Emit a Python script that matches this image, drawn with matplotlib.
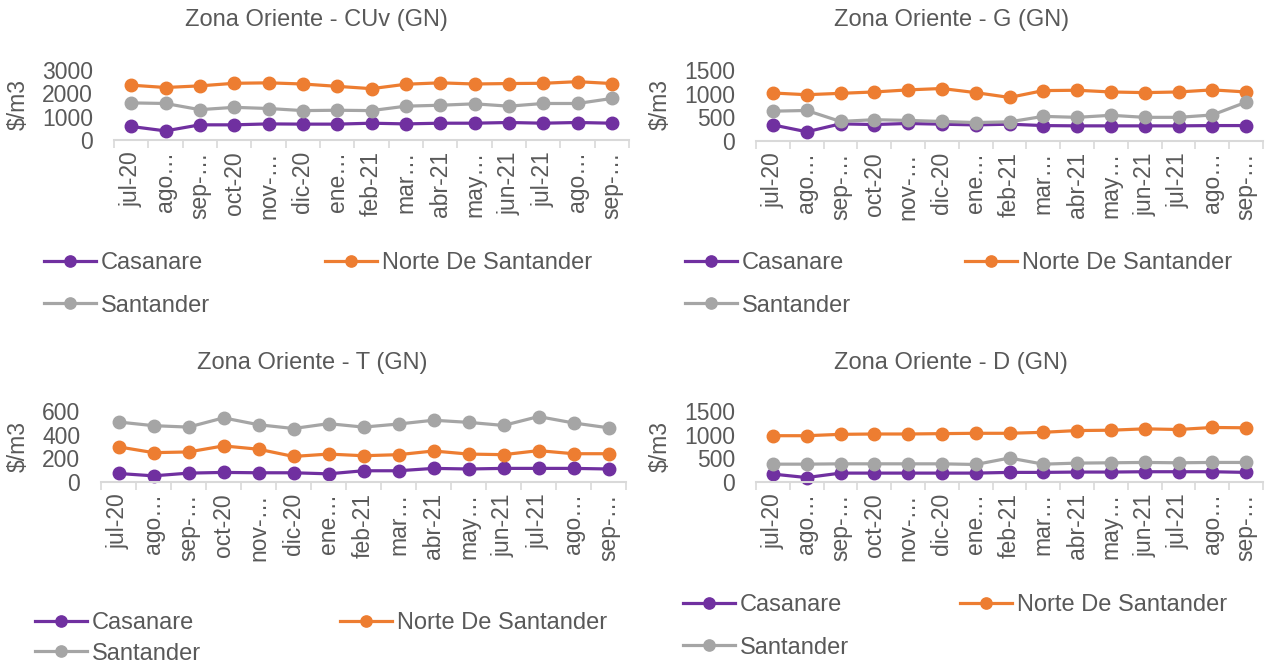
import matplotlib
matplotlib.use("Agg")
import matplotlib.pyplot as plt
from matplotlib.ticker import MultipleLocator, FixedLocator

plt.rcParams['font.family'] = ['Liberation Sans', 'DejaVu Sans']

months = ["jul-20", "ago\u2026", "sep-\u2026", "oct-20", "nov-\u2026", "dic-20", "ene\u2026",
          "feb-21", "mar\u2026", "abr-21", "may\u2026", "jun-21", "jul-21", "ago\u2026", "sep-\u2026"]

series_names = ["Casanare", "Norte De Santander", "Santander"]

# CUv
cuv_casanare = [580, 390, 650, 650, 690, 680, 680, 720, 690, 720, 720, 750, 720, 750, 720]
cuv_norte = [2350, 2250, 2320, 2430, 2450, 2400, 2300, 2200, 2390, 2450, 2400, 2420, 2430, 2500, 2420]
cuv_santander = [1590, 1565, 1300, 1400, 1350, 1260, 1275, 1260, 1450, 1490, 1550, 1450, 1565, 1565, 1780]

# G
g_casanare = [340, 195, 362, 348, 370, 355, 340, 355, 326, 320, 320, 320, 320, 326, 326]
g_norte = [1014, 978, 1007, 1036, 1080, 1109, 1022, 920, 1065, 1072, 1036, 1022, 1036, 1080, 1036]
g_santander = [630, 645, 413, 450, 435, 413, 390, 405, 520, 500, 543, 500, 500, 550, 820]

# T
t_casanare = [72, 52, 75, 81, 78, 78, 69, 95, 95, 115, 110, 115, 115, 115, 110]
t_norte = [297, 248, 254, 305, 277, 216, 236, 222, 231, 262, 236, 231, 265, 239, 239]
t_santander = [507, 476, 464, 542, 484, 452, 493, 464, 490, 522, 504, 478, 553, 499, 458]

# D
d_casanare = [167, 94, 188, 188, 188, 188, 188, 203, 203, 210, 210, 217, 217, 217, 203]
d_norte = [978, 978, 1007, 1014, 1014, 1022, 1029, 1029, 1050, 1087, 1094, 1123, 1109, 1152, 1145]
d_santander = [377, 377, 384, 384, 384, 384, 370, 507, 377, 399, 406, 413, 406, 413, 413]

titles = ["Zona Oriente - CUv (GN)", "Zona Oriente - G (GN)",
          "Zona Oriente - T (GN)", "Zona Oriente - D (GN)"]
panels = [
    (cuv_casanare, cuv_norte, cuv_santander),
    (g_casanare, g_norte, g_santander),
    (t_casanare, t_norte, t_santander),
    (d_casanare, d_norte, d_santander),
]
ymaxes = [3000, 1500, 600, 1500]
ysteps = [1000, 500, 200, 500]

colors = ["#7030A0", "#ED7D31", "#A5A5A5"]
text_c = "#595959"
axis_c = "#D9D9D9"

W, H = 1265, 665
fig = plt.figure(figsize=(W / 100, H / 100), dpi=100)

# axes boxes in pixels: (left, right, y_zero, y_top)
boxes = [(114, 629, 140, 70), (756, 1263, 141, 70),
         (101, 626, 482, 411), (756, 1263, 482, 411)]
title_pos = [(316, 20), (952, 20), (312, 363), (951, 363)]
ylabel_pos = [(18, 104), (660, 104), (18, 446), (660, 446)]
# legend: (x of handle start, y of first row center, col2 x, row pitch)
legs = [(44, 261, 325, 42), (685, 261, 965, 42), (35, 621, 340, 30), (683, 603, 960, 42)]

fs_tick = 16.5
fs_title = 17
fs_leg = 17

for i, (data, ttl) in enumerate(zip(panels, titles)):
    l, r, y0, yt = boxes[i]
    ax = fig.add_axes([l / W, 1 - y0 / H, (r - l) / W, (y0 - yt) / H])
    x = list(range(len(months)))
    handles = []
    for s, c, name in zip(data, colors, series_names):
        h, = ax.plot(x, s, color=c, lw=2.3, marker='o', ms=9, label=name, clip_on=False)
        handles.append(h)
    ax.set_xlim(-0.5, len(months) - 0.5)
    ax.set_ylim(0, ymaxes[i])
    ax.yaxis.set_major_locator(MultipleLocator(ysteps[i]))
    ax.set_xticks(x)
    ax.set_xticklabels(months, rotation=90, fontsize=fs_tick, color=text_c)
    ax.xaxis.set_minor_locator(FixedLocator([k + 0.5 for k in range(-1, len(months))]))
    ax.tick_params(axis='x', which='major', length=0, pad=8)
    ax.tick_params(axis='x', which='minor', length=6, color=axis_c, width=1.2)
    ax.tick_params(axis='y', length=0, labelsize=fs_tick, labelcolor=text_c, pad=15)
    for sp in ['top', 'right', 'left']:
        ax.spines[sp].set_visible(False)
    ax.spines['bottom'].set_color(axis_c)
    ax.spines['bottom'].set_linewidth(1.5)
    lxp, lyp = ylabel_pos[i]
    ax.set_ylabel("$/m3", fontsize=fs_tick, color=text_c, va='center')
    ax.yaxis.set_label_coords((lxp - l) / (r - l), (y0 - lyp) / (y0 - yt))
    tx, ty = title_pos[i]
    fig.text(tx / W, 1 - ty / H, ttl, ha='center', va='center',
             fontsize=fs_title, color=text_c)
    lx, ly, c2x, pitch = legs[i]
    order = [handles[0], handles[2], handles[1]]
    labels = [series_names[0], series_names[2], series_names[1]]
    hl_px = 52
    fpx = fs_leg * 100 / 72
    sant_w = 4.614 * fpx
    tp = 5 / fpx
    leg = fig.legend(order, labels, loc='upper left', ncol=2,
                     bbox_to_anchor=(lx / W, 1 - (ly - fpx * 0.375) / H),
                     frameon=False, fontsize=fs_leg, borderpad=0, borderaxespad=0,
                     handlelength=hl_px / fpx, handletextpad=tp,
                     columnspacing=(c2x - lx - hl_px - 5 - sant_w) / fpx,
                     labelspacing=(pitch - 0.91 * fpx) / fpx, markerscale=0.9)
    for t in leg.get_texts():
        t.set_color(text_c)

fig.savefig("out.png", dpi=100)
